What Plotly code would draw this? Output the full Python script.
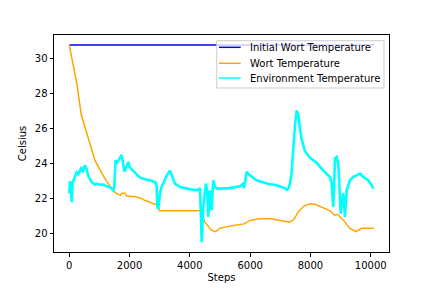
import plotly.graph_objects as go

# Initial wort temperature (constant)
init_steps = [0, 10100]
init_temp = [30.8, 30.8]

# Wort temperature
wort_steps = [0, 100, 250, 400, 550, 700, 850, 1000, 1200, 1400, 1550, 1700, 1750,
              1850, 1900, 2200, 2400, 2500, 2600, 2800, 2900, 3000, 4350, 4500,
              4700, 4850, 5000, 5400, 5800, 6000, 6300, 6700, 7000, 7300, 7450,
              7600, 7800, 8000, 8150, 8400, 8650, 8800, 8900, 9100, 9300, 9500,
              9700, 10100]
wort_temp = [30.8, 29.9, 28.6, 26.8, 25.9, 25.0, 24.2, 23.7, 23.1, 22.6, 22.3, 22.2, 22.3,
             22.3, 22.15, 22.1, 22.0, 21.9, 21.85, 21.7, 21.65, 21.3, 21.3, 20.65,
             20.2, 20.1, 20.3, 20.45, 20.55, 20.75, 20.85, 20.85, 20.75, 20.65, 20.8,
             21.25, 21.6, 21.7, 21.67, 21.5, 21.3, 21.05, 21.1, 20.75, 20.3, 20.1,
             20.3, 20.3]

# Environment temperature
env_steps = [0, 30, 60, 80, 113, 180, 245, 300, 355, 411, 440, 464, 521, 550, 577,
             630, 743, 850, 909, 1000, 1128, 1250, 1350, 1459, 1490, 1516, 1540,
             1572, 1640, 1682, 1738, 1780, 1820, 1848, 1900, 1957, 2000, 2123, 2345,
             2550, 2786, 2870, 2899, 2920, 2952, 2980, 3009, 3065, 3150, 3231, 3341,
             3397, 3506, 3672, 3850, 4113, 4279, 4335, 4370, 4392, 4420, 4445, 4501,
             4534, 4577, 4611, 4640, 4667, 4723, 4776, 4833, 4900, 4999, 5331, 5662,
             5772, 5800, 5884, 5994, 6216, 6548, 6879, 7150, 7211, 7264, 7321, 7377,
             7430, 7487, 7543, 7600, 7652, 7709, 7818, 7984, 8206, 8425, 8647, 8704,
             8740, 8757, 8790, 8813, 8870, 8923, 8956, 9002, 9050, 9089, 9145, 9202,
             9311, 9421, 9533, 9643, 9752, 9918, 10031, 10084]
env_temp = [22.3, 23.0, 22.6, 21.8, 22.9, 23.2, 23.5, 23.4, 23.6, 23.8, 23.5, 23.6,
            23.9, 23.8, 23.7, 23.3, 22.95, 22.8, 22.86, 22.8, 22.8, 22.7, 22.66, 22.47,
            22.6, 23.5, 24.2, 24.0, 24.2, 24.4, 24.5, 24.1, 23.6, 23.6, 23.8, 24.1,
            23.8, 23.6, 23.2, 23.1, 23.0, 22.9, 22.7, 21.6, 21.4, 21.8, 22.3, 22.66,
            23.0, 23.3, 23.6, 23.33, 22.86, 22.66, 22.6, 22.5, 22.5, 22.6, 20.9, 19.5,
            20.5, 21.5, 22.4, 22.86, 22.4, 20.95, 21.6, 22.47, 21.33, 23.05, 22.66,
            22.57, 22.57, 22.6, 22.7, 22.86, 22.6, 23.52, 23.33, 23.05, 22.86, 22.76,
            22.6, 22.5, 22.57, 22.86, 23.5, 25.0, 26.2, 27.05, 26.8, 26.0, 25.4, 24.71,
            24.33, 24.05, 23.6, 23.24, 22.86, 21.9, 21.52, 23.0, 24.29, 24.38, 24.0,
            22.86, 21.14, 21.9, 22.3, 20.95, 22.47, 23.05, 23.24, 23.33, 23.43, 23.24,
            23.05, 22.76, 22.57]

x_ticks = [0, 2000, 4000, 6000, 8000, 10000]
x_tick_labels = ["0", "2000", "4000", "6000", "8000", "10000"]
y_ticks = [20, 22, 24, 26, 28, 30]
y_tick_labels = ["20", "22", "24", "26", "28", "30"]

series_names = ["Initial Wort Temperature", "Wort Temperature", "Environment Temperature"]
series_colors = ["blue", "orange", "cyan"]

fig = go.Figure()
fig.add_trace(go.Scatter(x=init_steps, y=init_temp, mode="lines", name=series_names[0],
                         line=dict(color=series_colors[0], width=1.5)))
fig.add_trace(go.Scatter(x=wort_steps, y=wort_temp, mode="lines", name=series_names[1],
                         line=dict(color=series_colors[1], width=1.5)))
fig.add_trace(go.Scatter(x=env_steps, y=env_temp, mode="lines", name=series_names[2],
                         line=dict(color=series_colors[2], width=2.6)))

axis_common = dict(showline=True, mirror=True, linecolor="black", linewidth=1,
                   ticks="outside", ticklen=3.5, tickcolor="black", tickwidth=1,
                   showgrid=False, zeroline=False, automargin=False,
                   tickfont=dict(family="DejaVu Sans", size=10, color="black"))

# Legend drawn in paper coordinates (matplotlib-style box, upper right)
shapes = [dict(type="rect", xref="paper", yref="paper", x0=0.4857, x1=0.985,
               y0=0.7558, y1=0.9737, line=dict(color="#cccccc", width=1),
               fillcolor="rgba(255,255,255,0.8)", layer="above")]
annotations = []
row_y = [0.9433, 0.8696, 0.8018]
for name, col, yy in zip(series_names, series_colors, row_y):
    shapes.append(dict(type="line", xref="paper", yref="paper", x0=0.4925, x1=0.5573,
                       y0=yy, y1=yy, line=dict(color=col, width=1.5), layer="above"))
    annotations.append(dict(xref="paper", yref="paper", x=0.579, y=yy, text=name,
                            showarrow=False, xanchor="left", yanchor="middle",
                            font=dict(family="DejaVu Sans", size=10, color="black")))

fig.update_layout(
    width=432, height=288,
    margin=dict(l=54, r=43, t=35, b=36),
    paper_bgcolor="white", plot_bgcolor="white",
    font=dict(family="DejaVu Sans", size=10, color="black"),
    xaxis=dict(range=[-505, 10605], tickvals=x_ticks, ticktext=x_tick_labels,
               title=dict(text="Steps", font=dict(size=10), standoff=4),
               **axis_common),
    yaxis=dict(range=[18.94, 31.37], tickvals=y_ticks, ticktext=y_tick_labels,
               title=dict(text="Celsius", font=dict(size=10), standoff=6),
               **axis_common),
    showlegend=False,
    hovermode=False,
    shapes=shapes,
    annotations=annotations,
)

fig.write_html("out.html", config={"displayModeBar": False, "staticPlot": True},
               post_script="document.body.style.margin='0';document.body.style.padding='0';")
